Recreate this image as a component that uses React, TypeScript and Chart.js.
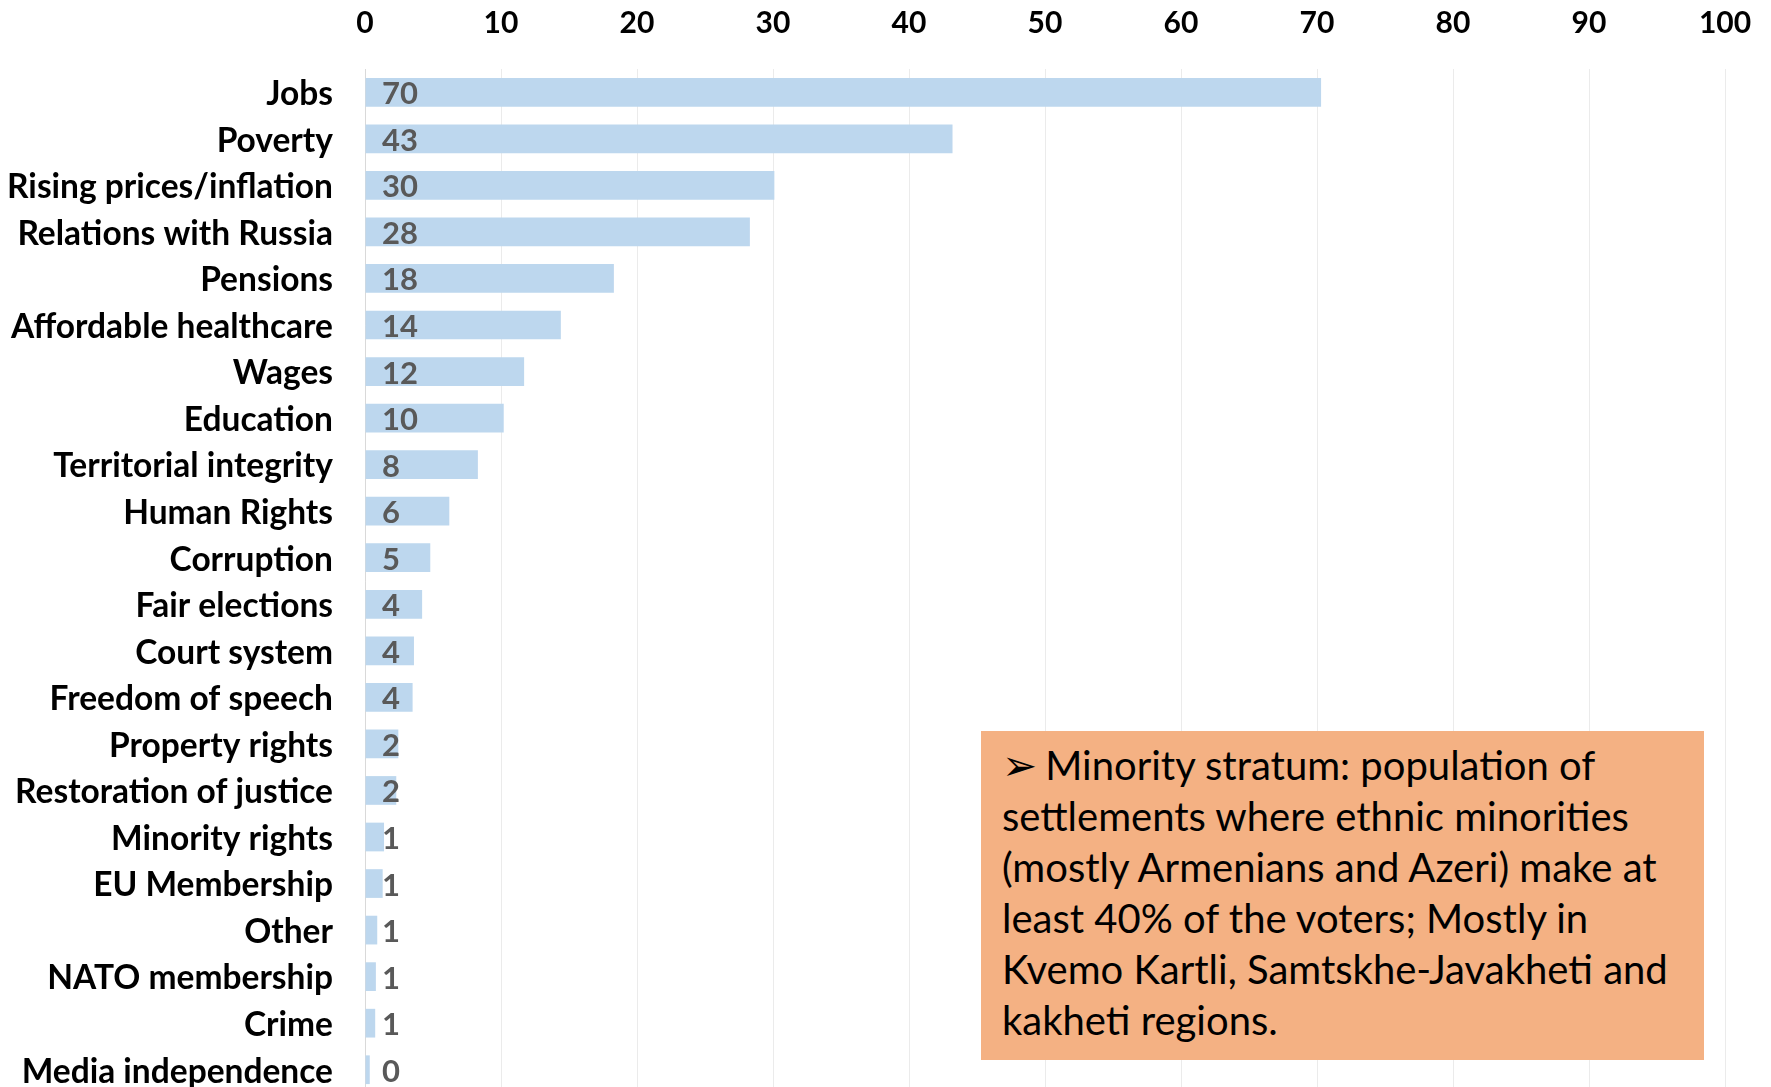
import React, { useEffect, useRef } from "react";
import { Chart, registerables } from "chart.js";

Chart.register(...registerables);

const categories = [
  "Jobs",
  "Poverty",
  "Rising prices/inflation",
  "Relations with Russia",
  "Pensions",
  "Affordable healthcare",
  "Wages",
  "Education",
  "Territorial integrity",
  "Human Rights",
  "Corruption",
  "Fair elections",
  "Court system",
  "Freedom of speech",
  "Property rights",
  "Restoration of justice",
  "Minority rights",
  "EU Membership",
  "Other",
  "NATO membership",
  "Crime",
  "Media independence",
];

const values = [
  70.3, 43.2, 30.1, 28.3, 18.3, 14.4, 11.7, 10.2, 8.3, 6.2, 4.8, 4.2, 3.6, 3.5,
  2.45, 2.3, 1.4, 1.3, 0.9, 0.8, 0.75, 0.35,
];

const valueLabels = [
  "70", "43", "30", "28", "18", "14", "12", "10", "8", "6", "5", "4", "4", "4",
  "2", "2", "1", "1", "1", "1", "1", "0",
];

const axisMin = 0;
const axisMax = 100;
const axisStep = 10;

const noteLines = [
  "Minority stratum: population of",
  "settlements where ethnic minorities",
  "(mostly Armenians and Azeri) make at",
  "least 40% of the voters; Mostly in",
  "Kvemo Kartli, Samtskhe-Javakheti and",
  "kakheti regions.",
];

const CANVAS_W = 1771;
const CANVAS_H = 1093;

const valueLabelPlugin = {
  id: "valueLabels",
  afterDatasetsDraw(chart: any) {
    const { ctx } = chart;
    const meta = chart.getDatasetMeta(0);
    const base = chart.scales.x.getPixelForValue(0);
    ctx.save();
    ctx.font = "bold 31px Lato";
    ctx.fillStyle = "#595959";
    ctx.textAlign = "left";
    ctx.textBaseline = "middle";
    meta.data.forEach((bar: any, i: number) => {
      ctx.fillText(valueLabels[i], base + 17, bar.y + 2);
    });
    ctx.restore();
  },
};

export default function App() {
  const canvasRef = useRef<HTMLCanvasElement | null>(null);

  useEffect(() => {
    const canvas = canvasRef.current;
    if (!canvas) return;
    const chart = new Chart(canvas, {
      type: "bar",
      data: {
        labels: categories,
        datasets: [
          {
            data: values,
            backgroundColor: "#BDD7EE",
            borderWidth: 0,
            barPercentage: 0.617,
            categoryPercentage: 1,
          },
        ],
      },
      options: {
        indexAxis: "y",
        animation: false,
        responsive: false,
        maintainAspectRatio: false,
        devicePixelRatio: 1,
        layout: {
          padding: { left: 0, right: 46, top: 0, bottom: 0 },
        },
        plugins: {
          legend: { display: false },
          tooltip: { enabled: false },
          title: { display: false },
        },
        scales: {
          x: {
            position: "top",
            min: axisMin,
            max: axisMax,
            ticks: {
              stepSize: axisStep,
              color: "#000000",
              font: { family: "Lato", weight: "bold", size: 30 },
              padding: 28,
              maxRotation: 0,
            },
            grid: { color: "#EBEBEB", drawTicks: false, lineWidth: 1 },
            border: { display: false },
            afterFit: (s: any) => {
              s.height = 69;
              s.paddingLeft = 0;
              s.paddingRight = 0;
              s.paddingTop = 0;
              s.paddingBottom = 0;
            },
          },
          y: {
            ticks: {
              color: "#000000",
              font: { family: "Lato", weight: "bold", size: 33.5 },
              padding: 32,
              labelOffset: 2,
              autoSkip: false,
            },
            grid: { display: false, drawTicks: false },
            border: { display: true, color: "#D9D9D9", width: 1 },
            afterFit: (s: any) => {
              s.width = 365;
              s.paddingLeft = 0;
              s.paddingRight = 0;
              s.paddingTop = 0;
              s.paddingBottom = 0;
            },
          },
        },
      } as any,
      plugins: [valueLabelPlugin],
    });
    return () => chart.destroy();
  }, []);

  return (
    <div
      style={{
        position: "fixed",
        left: 0,
        top: 0,
        width: CANVAS_W,
        height: CANVAS_H,
        background: "#ffffff",
        overflow: "hidden",
      }}
    >
      <canvas
        ref={canvasRef}
        width={CANVAS_W}
        height={CANVAS_H}
        style={{ display: "block", width: CANVAS_W, height: CANVAS_H }}
      />
      <div
        style={{
          position: "absolute",
          left: 981,
          top: 731,
          width: 723,
          height: 329,
          boxSizing: "border-box",
          background: "#F4B183",
          padding: "9px 0 0 21px",
          fontFamily: "Lato, 'DejaVu Sans', sans-serif",
          fontSize: 40,
          lineHeight: "51px",
          color: "#000000",
          whiteSpace: "nowrap",
        }}
      >
        {noteLines.map((line, i) => (
          <div key={i}>
            {i === 0 ? (
              <span
                style={{
                  fontFamily: "'DejaVu Sans'",
                  fontSize: 42,
                  marginRight: 8,
                }}
              >
                {"\u27A2"}
              </span>
            ) : null}
            {line}
          </div>
        ))}
      </div>
    </div>
  );
}
